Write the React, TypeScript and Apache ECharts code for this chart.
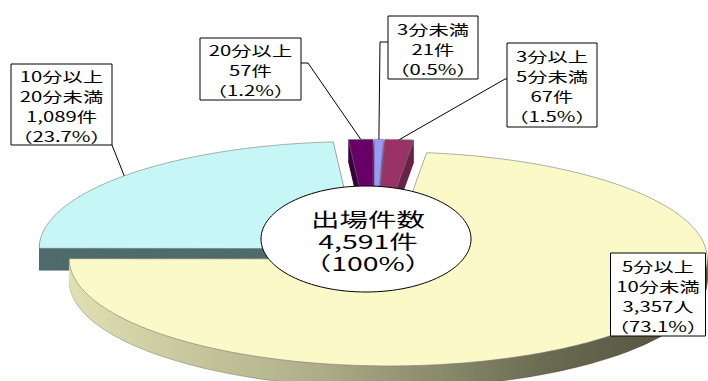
import React, { useEffect, useRef } from 'react';
import * as echarts from 'echarts';

// ---- data ----
const categories = ['3分未満', '3分以上5分未満', '5分以上10分未満', '10分以上20分未満', '20分以上'];
const categoryLines = [['3分未満'], ['3分以上', '5分未満'], ['5分以上', '10分未満'], ['10分以上', '20分未満'], ['20分以上']];
const counts = [21, 67, 3357, 1089, 57];
const percents = ['0.5', '1.5', '73.1', '23.7', '1.2'];
const units = ['件', '件', '人', '件', '件'];
const centerTitle = '出場件数';
const centerUnit = '件';
const centerPercent = '100';

// ---- styles ----
const topColors = ['#9999ff', '#993366', '#fbf9c8', '#c6f6f6', '#660066'];
const sideColors: any[] = [
  '#5c5cab',
  '#6a2348',
  new echarts.graphic.LinearGradient(60, 0, 710, 0, [
    { offset: 0, color: '#e2e2b4' },
    { offset: 0.4, color: '#adad88' },
    { offset: 0.75, color: '#6a6a52' },
    { offset: 1, color: '#4e4e3c' },
  ], true),
  '#4f6b6b',
  '#3a003a',
];

// ---- layout ----
const CX = 374;
const CY = 253.5;
const RX = 319;
const RY = 107;
const DEPTH = 22;
const EXPLODE = 21.6;
const FONT = '"Noto Sans CJK JP", "Noto Sans", sans-serif';
const boxes: any[] = [
  { cx: 433, cy: 47.5, w: 90, h: 63, path: [[380, 42], [388, 42]] },
  { cx: 552, cy: 85, w: 90, h: 84, path: [[505, 79], [507, 79]] },
  { cx: 658, cy: 294.5, w: 95, h: 83, path: null },
  { cx: 61.5, cy: 104.5, w: 101, h: 81, path: [[112, 145]] },
  { cx: 250.5, cy: 69, w: 101, h: 62, path: [[308, 63], [301, 63]] },
];

function sliceGeom(i: number) {
  const total = counts.reduce((s, v) => s + v, 0);
  let before = 0;
  for (let k = 0; k < i; k++) before += counts[k];
  const t0 = (before / total) * 360;
  const t1 = ((before + counts[i]) / total) * 360;
  const mid = (t0 + t1) / 2;
  const mr = (mid * Math.PI) / 180;
  const cx = CX + Math.sin(mr) * EXPLODE;
  const cy = CY - Math.cos(mr) * EXPLODE * (RY / RX);
  return { t0, t1, mid, mr, cx, cy };
}

function sectorPoints(cx: number, cy: number, t0: number, t1: number) {
  const pts: number[][] = [[cx, cy]];
  const n = Math.max(2, Math.ceil((t1 - t0) / 1));
  for (let k = 0; k <= n; k++) {
    const t = ((t0 + ((t1 - t0) * k) / n) * Math.PI) / 180;
    pts.push([cx + RX * Math.sin(t), cy - RY * Math.cos(t)]);
  }
  return pts;
}

export default function App() {
  const ref = useRef<HTMLDivElement>(null);
  useEffect(() => {
    if (!ref.current) return;
    const chart = echarts.init(ref.current, null, { renderer: 'svg' });
    const data = counts.map((v, i) => ({ name: categories[i], value: v }));
    const total = counts.reduce((s, v) => s + v, 0);

    chart.setOption({
      animation: false,
      series: [
        {
          type: 'custom',
          coordinateSystem: 'none',
          z: 2,
          silent: true,
          data,
          renderItem: (params: any) => {
            const i = params.dataIndex;
            const g = sliceGeom(i);
            const pts = sectorPoints(g.cx, g.cy, g.t0, g.t1);
            const z2 = Math.round(-Math.cos(g.mr) * 10) + 20;
            const children: any[] = [];
            for (let d = DEPTH; d >= 1; d--) {
              children.push({
                type: 'polygon',
                z2,
                shape: { points: pts.map((p) => [p[0], p[1] + d]) },
                style: {
                  fill: sideColors[i],
                  stroke: d === DEPTH ? 'rgba(0,0,0,0.35)' : null,
                  lineWidth: 0.7,
                },
              });
            }
            return { type: 'group', children };
          },
        },
        {
          type: 'custom',
          coordinateSystem: 'none',
          z: 3,
          silent: true,
          data,
          renderItem: (params: any) => {
            const i = params.dataIndex;
            const g = sliceGeom(i);
            const pts = sectorPoints(g.cx, g.cy, g.t0, g.t1);
            return {
              type: 'polygon',
              shape: { points: pts },
              style: { fill: topColors[i], stroke: '#7a7a7a', lineWidth: 0.6 },
            };
          },
        },
        {
          type: 'custom',
          coordinateSystem: 'none',
          z: 5,
          silent: true,
          data,
          renderItem: (params: any, api: any) => {
            const i = params.dataIndex;
            const g = sliceGeom(i);
            const b = boxes[i];
            const children: any[] = [];
            if (b.path) {
              const anchor = [g.cx + RX * Math.sin(g.mr), g.cy - RY * Math.cos(g.mr)];
              children.push({
                type: 'polyline',
                shape: { points: [anchor, ...b.path] },
                style: { stroke: '#000', lineWidth: 1, fill: null },
              });
            }
            children.push({
              type: 'rect',
              shape: { x: b.cx - b.w / 2, y: b.cy - b.h / 2, width: b.w, height: b.h },
              style: { fill: '#fff', stroke: '#000', lineWidth: 1 },
            });
            const value = api.value(0) as number;
            const lines = [
              ...categoryLines[i],
              value.toLocaleString('en-US') + units[i],
              '（' + percents[i] + '%）',
            ];
            children.push({
              type: 'text',
              x: b.cx,
              y: b.cy + 1,
              scaleX: 1.45,
              style: {
                text: lines.join('\n'),
                fontFamily: FONT,
                fontSize: 14,
                lineHeight: 20,
                fill: '#000',
                textAlign: 'center',
                textVerticalAlign: 'middle',
              },
            });
            return { type: 'group', children };
          },
        },
      ],
      graphic: [
        {
          type: 'ellipse',
          z: 100,
          silent: true,
          shape: { cx: 366, cy: 239, rx: 105, ry: 53 },
          style: { fill: '#fff', stroke: '#000', lineWidth: 1 },
        },
        {
          type: 'text',
          z: 101,
          silent: true,
          x: 368,
          y: 241,
          scaleX: 1.5,
          style: {
            text: [centerTitle, total.toLocaleString('en-US') + centerUnit, '（' + centerPercent + '%）'].join('\n'),
            fontFamily: FONT,
            fontSize: 19,
            lineHeight: 22,
            fill: '#000',
            textAlign: 'center',
            textVerticalAlign: 'middle',
          },
        },
      ],
    });
    return () => chart.dispose();
  }, []);

  return (
    <div
      ref={ref}
      style={{ position: 'fixed', left: 0, top: 0, width: 708, height: 381, background: '#fff' }}
    />
  );
}
